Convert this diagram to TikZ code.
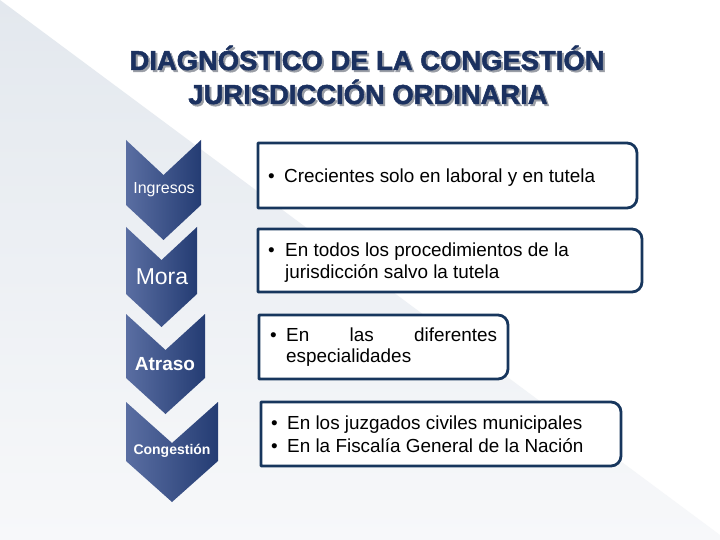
\documentclass[tikz,border=0pt]{standalone}
\usepackage{fontspec}
\setmainfont{Liberation Sans}
\newfontfamily\heavyfont[FakeBold=1.8]{Liberation Sans Bold}
\definecolor{navy}{HTML}{17365D}
\definecolor{titlecol}{HTML}{1B3160}
\definecolor{shadowcol}{HTML}{9A9EA6}
\definecolor{chevL}{HTML}{5A6EA2}
\definecolor{chevR}{HTML}{243C73}
\definecolor{bggray}{HTML}{E3E8EE}
\definecolor{bglight}{HTML}{F7F8FA}
\newcommand\mychev[4]{% left right top depth
  \shade[left color=chevL, right color=chevR]
    (#1,#3) -- ({(#1+#2)/2},{#3+#4}) -- (#2,#3) -- (#2,{#3+100-#4})
    -- ({(#1+#2)/2},{#3+100}) -- (#1,{#3+100-#4}) -- cycle;}
\newcommand\mybox[4]{% left right top bottom
  \draw[boxline] (#1,#3) -- ({#2-10},#3) .. controls ({#2-4.5},#3) and (#2,{#3+4.5}) .. (#2,{#3+10})
    -- (#2,{#4-10}) .. controls (#2,{#4-4.5}) and ({#2-4.5},#4) .. ({#2-10},#4) -- (#1,#4) -- cycle;}
\newcommand\shadowtitle[1]{\rlap{\hspace{2pt}\raisebox{-2pt}{\textcolor{shadowcol}{#1}}}\textcolor{titlecol}{#1}}
\begin{document}
\begin{tikzpicture}[x=1pt,y=-1pt,
  boxline/.style={draw=navy, line width=2.8pt, fill=white, line join=round},
  titletext/.style={inner sep=0pt, font=\heavyfont\fontsize{27.4}{34}\selectfont},
  chevtext/.style={text=white, inner sep=0pt},
  bodytext/.style={anchor=base west, inner sep=0pt, font=\fontsize{18.9}{22}\selectfont, text=black}]
\useasboundingbox (0,0) rectangle (720,540);
\fill[white] (0,0) rectangle (720,540);
\shade[top color=bggray, bottom color=bglight] (0,0) -- (720,535) -- (720,540) -- (0,540) -- cycle;

% title
\node[titletext, anchor=base] (title1) at (367,70) {\shadowtitle{DIAGNÓSTICO DE LA CONGESTIÓN}};
\node[titletext, anchor=base] (title2) at (368,104) {\shadowtitle{JURISDICCIÓN ORDINARIA}};

% chevrons
\mychev{126}{201}{140}{35}
\mychev{126}{197}{227}{33}
\mychev{126}{205}{314}{36}
\mychev{126}{218}{402}{41}
\node[chevtext, font=\fontsize{16}{16}\selectfont] (ing) at (164,190) {Ingresos};
\node[chevtext, font=\fontsize{23}{23}\selectfont] (mora) at (162,277) {Mora};
\node[chevtext, font=\bfseries\fontsize{19}{19}\selectfont] (atr) at (165,364) {Atraso};
\node[chevtext, font=\bfseries\fontsize{14}{14}\selectfont] (cong) at (172,451) {Congestión};

% boxes
\mybox{258}{637}{143}{208}
\mybox{258}{642}{229}{292}
\mybox{259}{508}{315}{379}
\mybox{261}{621}{402}{466}

\node[bodytext] (b1) at (268,183) {\textbullet};
\node[bodytext] (t1) at (284,183) {Crecientes solo en laboral y en tutela};

\node[bodytext] (b2) at (268,256) {\textbullet};
\node[bodytext] (t2a) at (285,256) {En todos los procedimientos de la};
\node[bodytext] (t2b) at (285,278) {jurisdicción salvo la tutela};

\node[bodytext] (b3) at (270,341) {\textbullet};
\node[bodytext] (t3a) at (286,341) {\makebox[211pt][s]{En las diferentes}};
\node[bodytext] (t3b) at (286,362) {especialidades};

\node[bodytext] (b4a) at (271,429) {\textbullet};
\node[bodytext] (t4a) at (287,429) {En los juzgados civiles municipales};
\node[bodytext] (b4b) at (271,452) {\textbullet};
\node[bodytext] (t4b) at (287,452) {En la Fiscalía General de la Nación};
\end{tikzpicture}
\end{document}
